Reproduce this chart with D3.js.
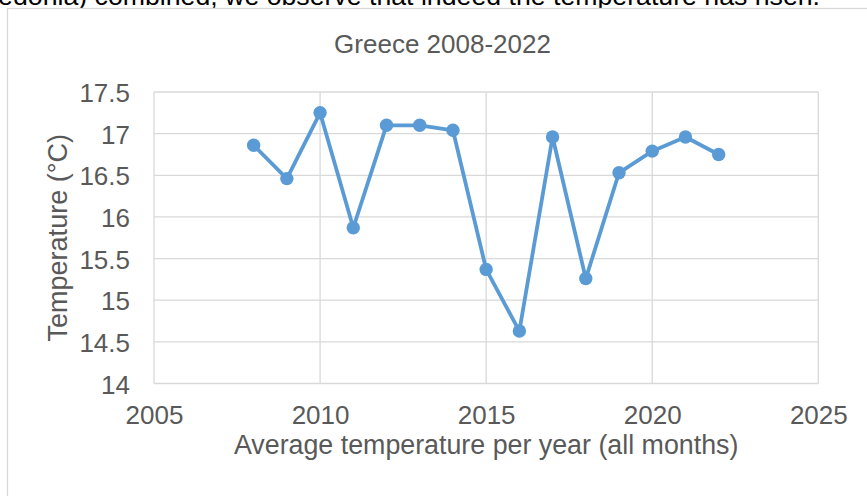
<!DOCTYPE html>
<html><head><meta charset="utf-8">
<script src="https://cdn.jsdelivr.net/npm/d3@7"></script>
<style>
html,body{margin:0;padding:0;background:#fff;overflow:hidden;}
svg{display:block;font-family:"Liberation Sans",Arial,sans-serif;}
</style></head>
<body>
<svg id="c" width="867" height="496"></svg>
<script>
const years = [2008,2009,2010,2011,2012,2013,2014,2015,2016,2017,2018,2019,2020,2021,2022];
const temps = [16.86,16.46,17.25,15.87,17.10,17.10,17.04,15.37,14.63,16.96,15.26,16.53,16.79,16.96,16.75];
const xTicks = [2005,2010,2015,2020,2025];
const yTicks = [14,14.5,15,15.5,16,16.5,17,17.5];
const chartTitle = "Greece 2008-2022";
const xTitle = "Average temperature per year (all months)";
const yTitle = "Temperature (°C)";
const topText = "Macedonia) combined, we observe that indeed the temperature has risen.";

const svg = d3.select("#c");
const L=154, R=818.3, T=92, B=383.5;
const x = d3.scaleLinear().domain([2005,2025]).range([L,R]);
const y = d3.scaleLinear().domain([14,17.5]).range([B,T]);
const grid="#d9d9d9", txt="#595959", blue="#5b9bd5";
const FF="Liberation Sans, Arial, sans-serif";

// top paragraph text (cut off at the top of the picture)
svg.append("text").attr("x",820).attr("y",4.5).attr("text-anchor","end")
  .attr("font-size",26.7).attr("fill","#000").text(topText);

// chart frame
svg.append("rect").attr("x",7.5).attr("y",8.5).attr("width",900).attr("height",600)
  .attr("fill","#fff").attr("stroke",grid).attr("stroke-width",1.3);

// gridlines
svg.append("g").selectAll("line").data(yTicks).join("line")
  .attr("x1",L).attr("x2",R).attr("y1",d=>y(d)).attr("y2",d=>y(d))
  .attr("stroke",grid).attr("stroke-width",1.3);
svg.append("g").selectAll("line").data(xTicks).join("line")
  .attr("y1",T).attr("y2",B).attr("x1",d=>x(d)).attr("x2",d=>x(d))
  .attr("stroke",grid).attr("stroke-width",1.3);

// axes (labels only)
const xa = svg.append("g").attr("transform",`translate(0,${B})`)
  .call(d3.axisBottom(x).tickValues(xTicks).tickFormat(d3.format("d")).tickSize(0).tickPadding(22));
xa.select(".domain").remove();
xa.selectAll("text").attr("font-size",26).attr("fill",txt).attr("font-family",FF);

const ya = svg.append("g").attr("transform",`translate(${L},0)`)
  .call(d3.axisLeft(y).tickValues(yTicks).tickFormat(d=>String(d)).tickSize(0).tickPadding(24));
ya.select(".domain").remove();
ya.selectAll("text").attr("font-size",26).attr("dy","0.37em").attr("fill",txt).attr("font-family",FF);

// titles
svg.append("text").attr("x",442.5).attr("y",53).attr("text-anchor","middle")
  .attr("font-size",26).attr("fill",txt).text(chartTitle);
svg.append("text").attr("x",(L+R)/2).attr("y",454).attr("text-anchor","middle")
  .attr("font-size",26.8).attr("fill",txt).text(xTitle);
svg.append("text").attr("transform",`translate(66.5,${(T+B)/2}) rotate(-90)`).attr("text-anchor","middle")
  .attr("font-size",27).attr("fill",txt).text(yTitle);

// line + markers
const data = years.map((d,i)=>({yr:d,t:temps[i]}));
svg.append("path").datum(data)
  .attr("d",d3.line().x(d=>x(d.yr)).y(d=>y(d.t)))
  .attr("fill","none").attr("stroke",blue).attr("stroke-width",3.8).attr("stroke-linejoin","round");
svg.append("g").selectAll("circle").data(data).join("circle")
  .attr("cx",d=>x(d.yr)).attr("cy",d=>y(d.t)).attr("r",6.7).attr("fill",blue);
</script>
</body></html>
